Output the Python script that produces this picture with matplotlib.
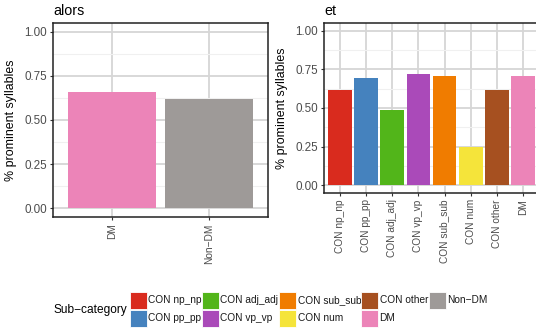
import matplotlib.pyplot as plt
from matplotlib.patches import Rectangle

plt.rcParams['font.family'] = ['Liberation Sans', 'DejaVu Sans']

# data
alors_cats = ['DM', 'Non\u2212DM']
alors_vals = [0.657, 0.618]

et_cats = ['CON np_np', 'CON pp_pp', 'CON adj_adj', 'CON vp_vp',
           'CON sub_sub', 'CON num', 'CON other', 'DM']
et_vals = [0.615, 0.692, 0.487, 0.718, 0.709, 0.250, 0.615, 0.709]

legend_labels = ['CON np_np', 'CON pp_pp', 'CON adj_adj', 'CON vp_vp',
                 'CON sub_sub', 'CON num', 'CON other', 'DM', 'Non\u2212DM']
palette = {
    'CON np_np': '#D92B1E',
    'CON pp_pp': '#4582BE',
    'CON adj_adj': '#52B51A',
    'CON vp_vp': '#AA4AB9',
    'CON sub_sub': '#F07C00',
    'CON num': '#F5E43A',
    'CON other': '#A65020',
    'DM': '#EC84B8',
    'Non\u2212DM': '#9E9A98',
}

W, H = 536, 331
fig = plt.figure(figsize=(W / 100, H / 100), dpi=100)


def px_axes(x0, y0, x1, y1):
    # pixel box -> figure fraction
    return fig.add_axes([x0 / W, 1 - y1 / H, (x1 - x0) / W, (y1 - y0) / H])


def style(ax, cats, vals, title):
    x = range(len(cats))
    ax.bar(x, vals, width=0.9, color=[palette[c] for c in cats], zorder=3)
    ax.set_xlim(-0.6, len(cats) - 0.4)
    ax.set_ylim(-0.05, 1.05)
    ax.set_xticks(list(x))
    ax.set_xticklabels(cats, rotation=90, fontsize=7.3, color='#4D4D4D')
    ax.set_yticks([0, 0.25, 0.5, 0.75, 1.0])
    ax.set_yticklabels(['0.00', '0.25', '0.50', '0.75', '1.00'],
                       fontsize=8.4, color='#4D4D4D')
    ax.set_yticks([0.125, 0.375, 0.625, 0.875], minor=True)
    ax.grid(True, which='major', color='#D6D6D6', linewidth=1.3, zorder=0)
    ax.grid(True, which='minor', axis='y', color='#F0F0F0', linewidth=0.8, zorder=0)
    ax.tick_params(which='major', length=2.5, width=0.8, color='#333333', pad=2)
    ax.tick_params(which='minor', length=0)
    for s in ax.spines.values():
        s.set_color('#222222')
        s.set_linewidth(1.1)
    ax.set_ylabel('% prominent syllables', fontsize=8.9, labelpad=5)
    ax.set_title(title, loc='left', fontsize=10.3, pad=6)


ax1 = px_axes(53, 23, 268, 217)
style(ax1, alors_cats, alors_vals, 'alors')

ax2 = px_axes(324, 23, 539, 193)
style(ax2, et_cats, et_vals, 'et')

# legend, laid out like the ggplot guide (two rows, filled by column)
fig.text(53 / W, 1 - 310 / H, 'Sub\u2212category', fontsize=8.6,
         va='center', ha='left')
key_x = [130, 202, 279, 361, 429]
key_y = [292, 310]
kw, kh = 16.5, 16.5
for i, lab in enumerate(legend_labels):
    col, row = divmod(i, 2)
    x0, y0 = key_x[col], key_y[row]
    fig.text((x0 + kw + 2) / W, 1 - (y0 + kh / 2) / H, lab, fontsize=7.3,
             color='#1A1A1A', va='center', ha='left', zorder=1)
    fig.patches.append(Rectangle((x0 / W, 1 - (y0 + kh) / H), kw / W, kh / H,
                                 transform=fig.transFigure,
                                 facecolor=palette[lab], edgecolor='white',
                                 linewidth=0.6, zorder=5))

fig.savefig('out.png', dpi=100)
